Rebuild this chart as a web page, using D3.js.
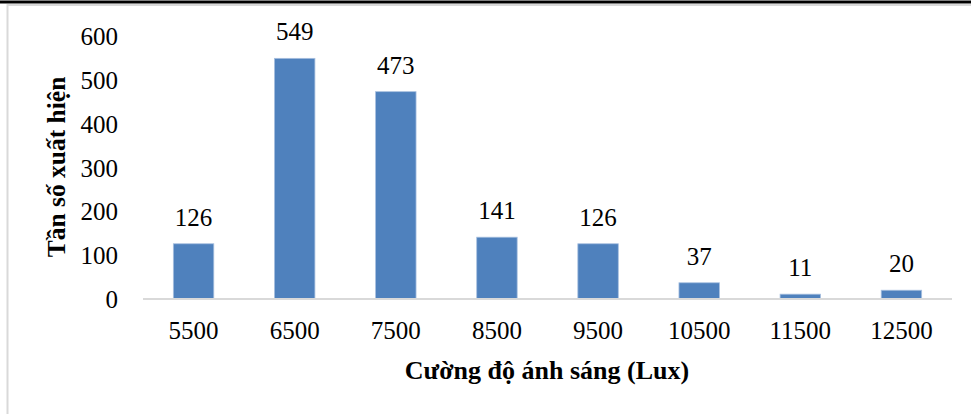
<!DOCTYPE html>
<html><head><meta charset="utf-8">
<script src="https://cdn.jsdelivr.net/npm/d3@7"></script>
<style>
body{margin:0;background:#fff}
#chart{position:relative;width:971px;height:414px;overflow:hidden}
#chart svg{position:absolute;left:0;top:0;display:block}
.t{position:absolute;font-family:"Liberation Serif","Times New Roman",serif;color:#000;white-space:nowrap;line-height:1}
</style>
</head><body>
<div id="chart"></div>
<script>
const categories = ["5500","6500","7500","8500","9500","10500","11500","12500"];
const values = [126,549,473,141,126,37,11,20];
const yTicks = [0,100,200,300,400,500,600];
const yTitle = "Tần số xuất hiện";
const xTitle = "Cường độ ánh sáng (Lux)";

const W = 971, H = 414;
const root = d3.select("#chart");
const svg = root.append("svg").attr("width", W).attr("height", H);

// frame
svg.append("line").attr("x1",0).attr("x2",W).attr("y1",2).attr("y2",2).attr("stroke","#000").attr("stroke-width",3);
svg.append("line").attr("x1",7).attr("x2",W).attr("y1",5).attr("y2",5).attr("stroke","#d9d9d9").attr("stroke-width",2);
svg.append("line").attr("x1",7.5).attr("x2",7.5).attr("y1",4).attr("y2",H).attr("stroke","#d9d9d9").attr("stroke-width",2);

const x = d3.scaleBand().domain(categories).range([143, 952]).paddingInner(0.6).paddingOuter(0.3);
const y = d3.scaleLinear().domain([0, 600]).range([299, 36]);

// bars
svg.append("g").selectAll("rect").data(values).join("rect")
  .attr("x", (d,i) => x(categories[i]))
  .attr("y", d => y(d))
  .attr("width", x.bandwidth())
  .attr("height", d => y(0) - y(d))
  .attr("fill", "#4f81bd")
  .attr("stroke", "#a7bfdf").attr("stroke-width", 0.8);

// baseline
svg.append("line").attr("x1",143).attr("x2",952).attr("y1",y(0)).attr("y2",y(0))
  .attr("stroke","#d9d9d9").attr("stroke-width",2);

// y tick labels
root.selectAll("div.yt").data(yTicks).join("div").attr("class","t yt")
  .style("left","118px").style("top", d => y(d) + "px")
  .style("font-size","25px").style("transform","translate(-100%,-50%)")
  .text(d => d);

// x tick labels
root.selectAll("div.xt").data(categories).join("div").attr("class","t xt")
  .style("left", d => (x(d) + x.bandwidth()/2) + "px").style("top","330px")
  .style("font-size","25px").style("transform","translate(-50%,-50%)")
  .text(d => d);

// data labels
root.selectAll("div.dl").data(values).join("div").attr("class","t dl")
  .style("left", (d,i) => (x(categories[i]) + x.bandwidth()/2) + "px")
  .style("top", d => (y(d) - 27) + "px")
  .style("font-size","25px").style("transform","translate(-50%,-50%)")
  .text(d => d);

// titles
root.append("div").attr("class","t")
  .style("left","57px").style("top","167px")
  .style("font-size","25.5px").style("font-weight","bold")
  .style("transform","translate(-50%,-50%) rotate(-90deg)")
  .text(yTitle);
root.append("div").attr("class","t")
  .style("left","547px").style("top","371px")
  .style("font-size","26px").style("font-weight","bold")
  .style("transform","translate(-50%,-50%)")
  .text(xTitle);
</script>
</body></html>
